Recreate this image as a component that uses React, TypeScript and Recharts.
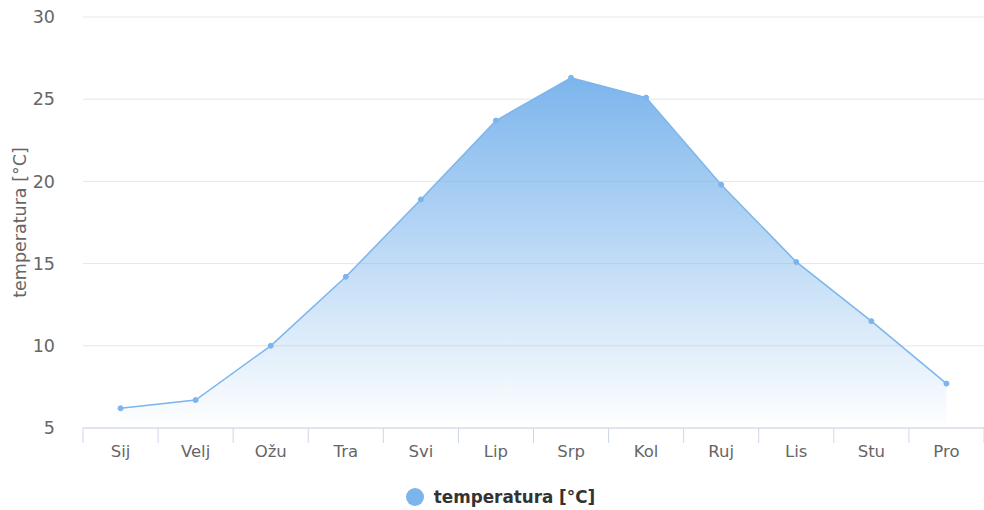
import React from "react";
import { AreaChart, Area, XAxis, YAxis, CartesianGrid, Legend, Label } from "recharts";

const months = ["Sij", "Velj", "Ožu", "Tra", "Svi", "Lip", "Srp", "Kol", "Ruj", "Lis", "Stu", "Pro"];
const temperatures = [6.2, 6.7, 10.0, 14.2, 18.9, 23.7, 26.3, 25.1, 19.8, 15.1, 11.5, 7.7];
const yTicks = [5, 10, 15, 20, 25, 30];
const seriesName = "temperatura [°C]";

const data = months.map((m, i) => ({ month: m, temp: temperatures[i] }));

const FONT = "DejaVu Sans, sans-serif";
const COLOR = "#7cb5ec";

const XTick = (props: any) => {
  const { x, y, payload, index, visibleTicksCount } = props;
  const half = payload.offset || 0;
  return (
    <g>
      <line x1={x - half} x2={x - half} y1={y - 8} y2={y + 7} stroke="#ccd6eb" strokeWidth={1} />
      {index === visibleTicksCount - 1 && (
        <line x1={x + half} x2={x + half} y1={y - 8} y2={y + 7} stroke="#ccd6eb" strokeWidth={1} />
      )}
      <text x={x} y={y + 21} textAnchor="middle" fill="#666666" fontSize={16.5} fontFamily={FONT}>
        {payload.value}
      </text>
    </g>
  );
};

const LegendContent = () => (
  <div style={{ display: "flex", justifyContent: "center", alignItems: "center", height: 40, paddingTop: 14, boxSizing: "border-box" }}>
    <svg width={20} height={20} style={{ marginRight: 9, marginLeft: 16 }}>
      <circle cx={10} cy={10} r={9} fill={COLOR} />
    </svg>
    <span style={{ fontFamily: FONT, fontWeight: "bold", fontSize: 16.8, color: "#333333" }}>{seriesName}</span>
  </div>
);

export default function App() {
  return (
    <div style={{ position: "absolute", left: 0, top: 0, width: 984, height: 510, background: "#ffffff" }}>
      <AreaChart width={984} height={510} data={data} margin={{ top: 17, right: 0, bottom: 0, left: 0 }}>
        <defs>
          <linearGradient id="tempFill" x1="0" y1="0" x2="0" y2="1">
            <stop offset="0%" stopColor={COLOR} stopOpacity={1} />
            <stop offset="100%" stopColor={COLOR} stopOpacity={0} />
          </linearGradient>
        </defs>
        <CartesianGrid vertical={false} stroke="#e6e6e6" />
        <XAxis
          dataKey="month"
          scale="band"
          height={42}
          axisLine={{ stroke: "#ccd6eb" }}
          tickLine={false}
          tick={<XTick />}
          interval={0}
        />
        <YAxis
          domain={[5, 30]}
          ticks={yTicks}
          width={83}
          axisLine={false}
          tickLine={false}
          tick={{ fill: "#666666", fontSize: 17.5, fontFamily: FONT }}
          tickMargin={22}
        >
          <Label
            value={seriesName}
            angle={-90}
            position="insideLeft"
            offset={20}
            style={{ textAnchor: "middle", fill: "#666666", fontSize: 17.5, fontFamily: FONT }}
          />
        </YAxis>
        <Legend verticalAlign="bottom" height={40} content={<LegendContent />} />
        <Area
          type="linear"
          dataKey="temp"
          name={seriesName}
          stroke={COLOR}
          strokeWidth={1.5}
          fill="url(#tempFill)"
          fillOpacity={1}
          dot={{ r: 2.5, fill: COLOR, stroke: COLOR, strokeWidth: 1 }}
          activeDot={false}
          isAnimationActive={false}
        />
      </AreaChart>
    </div>
  );
}
